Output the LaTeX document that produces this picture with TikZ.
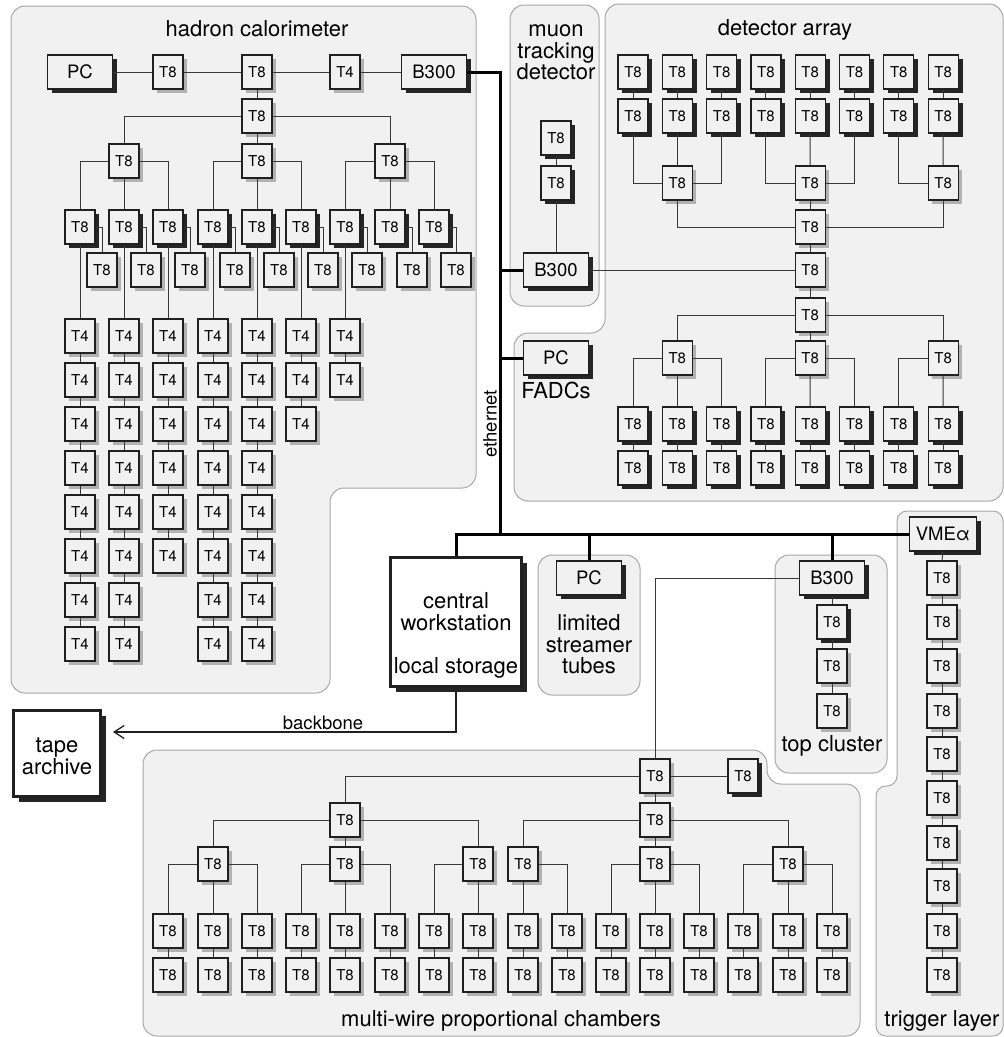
\documentclass[tikz,border=0pt]{standalone}
\usepackage{fontspec}
\setmainfont{TeX Gyre Heros}
\usetikzlibrary{shadows,arrows.meta}
\definecolor{regfill}{HTML}{F1F1F1}
\definecolor{regline}{HTML}{A8A8A8}
\definecolor{boxline}{HTML}{202020}
\definecolor{lightsh}{HTML}{B2B2B2}
\definecolor{darksh}{HTML}{252525}
\definecolor{wirecol}{HTML}{383838}
\begin{document}
\begin{tikzpicture}[x=1pt,y=-1pt,
 region/.style={fill=regfill,draw=regline,line width=1pt,rounded corners=14pt},
 boxbase/.style={draw=boxline,line width=1.2pt,fill=regfill,inner sep=0pt,minimum width=30pt,minimum height=34pt,font=\fontsize{15}{18}\selectfont},
 lsh/.style={drop shadow={shadow xshift=3.6pt,shadow yshift=-3.6pt,fill=lightsh,opacity=1}},
 dsh/.style={drop shadow={shadow xshift=4.4pt,shadow yshift=-4.4pt,fill=darksh,opacity=1}},
 t8/.style={boxbase,lsh},
 t8d/.style={boxbase,dsh},
 wbox/.style={boxbase,dsh,minimum width=65pt,font=\fontsize{18.5}{22}\selectfont},
 bigbox/.style={draw=boxline,line width=3pt,fill=white,inner sep=0pt,
   drop shadow={shadow xshift=5.5pt,shadow yshift=-5.5pt,fill=darksh,opacity=1}},
 ttl/.style={font=\fontsize{22}{22}\selectfont,anchor=base,inner sep=0pt},
 lbl/.style={font=\fontsize{18.5}{22}\selectfont,inner sep=0pt},
 wire/.style={draw=wirecol,line width=1pt},
 bus/.style={draw=black,line width=3pt}
]
\useasboundingbox (0,0) rectangle (1004,1037);
\clip (0,0) rectangle (1004,1037);
\fill[white] (0,0) rectangle (1004,1037);

% ---------------- regions
\draw[region] (11,6) -- (476,6) -- (476,488) -- (330,488) -- (330,693) -- (11,693) -- cycle;
\draw[region] (510,5) rectangle (599,306);
\draw[region] (605,4) -- (1003,4) -- (1003,501) -- (514,501) -- (514,333) -- (605,333) -- cycle;
\draw[region] (538,555) rectangle (640,695);
\draw[region] (775,555) rectangle (887,773);
\draw[region] (143,750) -- (767,750) -- (767,784) -- (860,784) -- (860,1036) -- (143,1036) -- cycle;
\draw[region,rounded corners=10pt] (897,511) -- (1003,511) -- (1003,1036) -- (876,1036) -- (876,786) -- (897,786) -- cycle;

% ---------------- hadron calorimeter
\node[ttl] (tHad) at (257,36.5) {hadron calorimeter};
\node[wbox] (hPC) at (80,72) {PC};
\node[t8] (hT8a) at (168,72) {T8};
\node[t8] (hT8b) at (257,72) {T8};
\node[t8] (hT4) at (345,72) {T4};
\node[wbox] (hB300) at (434,72) {B300};
\draw[wire] (hPC.east) -- (hT8a.west);
\draw[wire] (hT8a.east) -- (hT8b.west);
\draw[wire] (hT8b.east) -- (hT4.west);
\draw[wire] (hT4.east) -- (hB300.west);
\node[t8] (hR2) at (257,116) {T8};
\draw[wire] (hT8b.south) -- (hR2.north);
\node[t8] (h3-1) at (124,161) {T8};
\node[t8] (h3-2) at (257,161) {T8};
\node[t8] (h3-3) at (390,161) {T8};
\draw[wire] (hR2.west) -| (h3-1.north);
\draw[wire] (hR2.south) -- (h3-2.north);
\draw[wire] (hR2.east) -| (h3-3.north);
\foreach \x [count=\i] in {80,124,168,213,257,301,345,390,434} {
  \node[t8d] (h4-\i) at (\x,227) {T8};
  \node[t8] (h5-\i) at (\x+22,270) {T8};
  \draw[wire] (h4-\i.east) -| (h5-\i.north);
}
\foreach \p/\a/\b/\c in {1/1/2/3,2/4/5/6,3/7/8/9} {
  \draw[wire] (h3-\p.west) -| (h4-\a.north);
  \draw[wire] (h3-\p.south) -- (h4-\b.north);
  \draw[wire] (h3-\p.east) -| (h4-\c.north);
}
\foreach \x/\n [count=\i] in {80/8,124/8,168/6,213/8,257/8,301/3,345/2} {
  \foreach \k in {1,...,\n} {
    \node[t8] (t4-\i-\k) at (\x,{336+44*(\k-1)}) {T4};
  }
  \draw[wire] (h4-\i.south) -- (t4-\i-1.north);
  \foreach \k in {2,...,\n} {
    \pgfmathtruncatemacro\km{\k-1}
    \draw[wire] (t4-\i-\km.south) -- (t4-\i-\k.north);
  }
}

% ---------------- muon tracking detector
\node[ttl] (tMu1) at (556,36) {muon};
\node[ttl] (tMu2) at (556,58) {tracking};
\node[ttl] (tMu3) at (556,79.5) {detector};
\node[t8d] (mT8a) at (556,138) {T8};
\node[t8d] (mT8b) at (556,183) {T8};
\node[wbox] (mB300) at (556,270) {B300};
\draw[wire] (mT8a.south) -- (mT8b.north);
\draw[wire] (mT8b.south) -- (mB300.north);

% ---------------- detector array
\node[ttl] (tDet) at (785,35.5) {detector array};
\foreach \i in {1,...,8} {
  \pgfmathsetmacro\x{633+44.3*(\i-1)}
  \node[t8d] (dA-\i) at (\x,72) {T8};
  \node[t8d] (dB-\i) at (\x,116) {T8};
  \node[t8d] (dH-\i) at (\x,424) {T8};
  \node[t8d] (dI-\i) at (\x,468) {T8};
  \draw[wire] (dA-\i.south) -- (dB-\i.north);
  \draw[wire] (dH-\i.south) -- (dI-\i.north);
}
\node[t8] (dC-1) at (677.3,183) {T8};
\node[t8] (dC-2) at (810.2,183) {T8};
\node[t8] (dC-3) at (943.1,183) {T8};
\node[t8] (dD) at (810.2,227) {T8};
\node[t8] (dE) at (810.2,270) {T8};
\node[t8] (dF) at (810.2,315) {T8};
\node[t8] (dG-1) at (677.3,358) {T8};
\node[t8] (dG-2) at (810.2,358) {T8};
\node[t8] (dG-3) at (943.1,358) {T8};
\draw[wire] (dB-1.south) |- (dC-1.west);
\draw[wire] (dB-2.south) -- (dC-1.north);
\draw[wire] (dB-3.south) |- (dC-1.east);
\draw[wire] (dB-4.south) |- (dC-2.west);
\draw[wire] (dB-5.south) -- (dC-2.north);
\draw[wire] (dB-6.south) |- (dC-2.east);
\draw[wire] (dB-7.south) |- (dC-3.west);
\draw[wire] (dB-8.south) -- (dC-3.north);
\draw[wire] (dC-1.south) |- (dD.west);
\draw[wire] (dC-2.south) -- (dD.north);
\draw[wire] (dC-3.south) |- (dD.east);
\draw[wire] (dD.south) -- (dE.north);
\draw[wire] (dE.south) -- (dF.north);
\draw[wire] (mB300.east) -- (dE.west);
\draw[wire] (dF.west) -| (dG-1.north);
\draw[wire] (dF.south) -- (dG-2.north);
\draw[wire] (dF.east) -| (dG-3.north);
\draw[wire] (dG-1.west) -| (dH-1.north);
\draw[wire] (dG-1.south) -- (dH-2.north);
\draw[wire] (dG-1.east) -| (dH-3.north);
\draw[wire] (dG-2.west) -| (dH-4.north);
\draw[wire] (dG-2.south) -- (dH-5.north);
\draw[wire] (dG-2.east) -| (dH-6.north);
\draw[wire] (dG-3.west) -| (dH-7.north);
\draw[wire] (dG-3.south) -- (dH-8.north);
\node[wbox] (fPC) at (556,358) {PC};
\node[ttl] (tFadc) at (556,398) {FADCs};

% ---------------- central workstation, tape
\node[bigbox,minimum width=131pt,minimum height=129pt] (ws) at (456,622) {};
\node[ttl] (tWs1) at (456,608) {central};
\node[ttl] (tWs2) at (456,630) {workstation};
\node[ttl] (tWs3) at (456,673) {local storage};
\node[bigbox,minimum width=87pt,minimum height=86pt] (tape) at (57,753.5) {};
\node[ttl] (tTp1) at (57,752) {tape};
\node[ttl] (tTp2) at (57,774) {archive};
\coordinate (bbEnd) at (113,732);
\draw[draw=boxline,line width=1.3pt,-{Straight Barb[length=10pt,width=13pt,line width=1.3pt]}] (ws.south) |- (bbEnd);
\node[lbl,anchor=base] (bb) at (323,729) {backbone};

% ---------------- limited streamer tubes
\node[wbox] (lsPC) at (589,578) {PC};
\node[ttl] (tLs1) at (589,630) {limited};
\node[ttl] (tLs2) at (589,652) {streamer};
\node[ttl] (tLs3) at (589,673) {tubes};

% ---------------- top cluster
\node[wbox] (tcB300) at (832,578) {B300};
\node[t8d] (tcT1) at (832,622) {T8};
\node[t8] (tcT2) at (832,666) {T8};
\node[t8] (tcT3) at (832,711) {T8};
\draw[wire] (tcB300.south) -- (tcT1.north);
\draw[wire] (tcT1.south) -- (tcT2.north);
\draw[wire] (tcT2.south) -- (tcT3.north);
\node[ttl] (tTc) at (832,751) {top cluster};

% ---------------- trigger layer
\node[wbox,minimum width=67pt] (vme) at (943,534) {VMEα};
\foreach \y [count=\i] in {578,622,666,711,754,798,843,886,931,975} {
  \node[t8] (tr-\i) at (942,\y) {T8};
}
\draw[wire] (vme.south) -- (tr-1.north);
\foreach \i in {2,...,10} {
  \pgfmathtruncatemacro\im{\i-1}
  \draw[wire] (tr-\im.south) -- (tr-\i.north);
}
\node[ttl] (tTr) at (942,1026) {trigger layer};

% ---------------- multi-wire proportional chambers
\node[t8] (mwT) at (655,776) {T8};
\node[t8d] (mwR) at (743,776) {T8};
\node[t8] (mwA) at (345,820) {T8};
\node[t8] (mwB) at (655,820) {T8};
\draw[wire] (mwT.east) -- (mwR.west);
\draw[wire] (mwT.west) -| (mwA.north);
\draw[wire] (mwT.south) -- (mwB.north);
\draw[wire] (tcB300.west) -| (mwT.north);
\foreach \x [count=\i] in {213,345,478,523,655,788} {
  \node[t8] (m3-\i) at (\x,864) {T8};
}
\draw[wire] (mwA.west) -| (m3-1.north);
\draw[wire] (mwA.south) -- (m3-2.north);
\draw[wire] (mwA.east) -| (m3-3.north);
\draw[wire] (mwB.west) -| (m3-4.north);
\draw[wire] (mwB.south) -- (m3-5.north);
\draw[wire] (mwB.east) -| (m3-6.north);
\foreach \x [count=\i] in {168,213,257,301,345,390,434,478,523,567,611,655,699,743,788,832} {
  \node[t8] (m4-\i) at (\x,931) {T8};
  \node[t8] (m5-\i) at (\x,975) {T8};
  \draw[wire] (m4-\i.south) -- (m5-\i.north);
}
\foreach \p/\a/\b/\c in {1/1/2/3,2/4/5/6,5/11/12/13,6/14/15/16} {
  \draw[wire] (m3-\p.west) -| (m4-\a.north);
  \draw[wire] (m3-\p.south) -- (m4-\b.north);
  \draw[wire] (m3-\p.east) -| (m4-\c.north);
}
\draw[wire] (m3-3.west) -| (m4-7.north);
\draw[wire] (m3-3.south) -- (m4-8.north);
\draw[wire] (m3-4.south) -- (m4-9.north);
\draw[wire] (m3-4.east) -| (m4-10.north);
\node[ttl] (tMw) at (501,1026) {multi-wire proportional chambers};

% ---------------- ethernet
\coordinate (eJ) at (500,534);
\draw[bus] (hB300.east) -| (eJ);
\draw[bus] (ws.north) |- (vme.west);
\draw[bus] (mB300.west) -- (mB300.west -| eJ);
\draw[bus] (fPC.west) -- (fPC.west -| eJ);
\draw[bus] (lsPC.north) -- (lsPC.north |- eJ);
\draw[bus] (tcB300.north) -- (tcB300.north |- eJ);
\node[lbl,rotate=90] (eth) at (490,424) {ethernet};
\end{tikzpicture}
\end{document}
